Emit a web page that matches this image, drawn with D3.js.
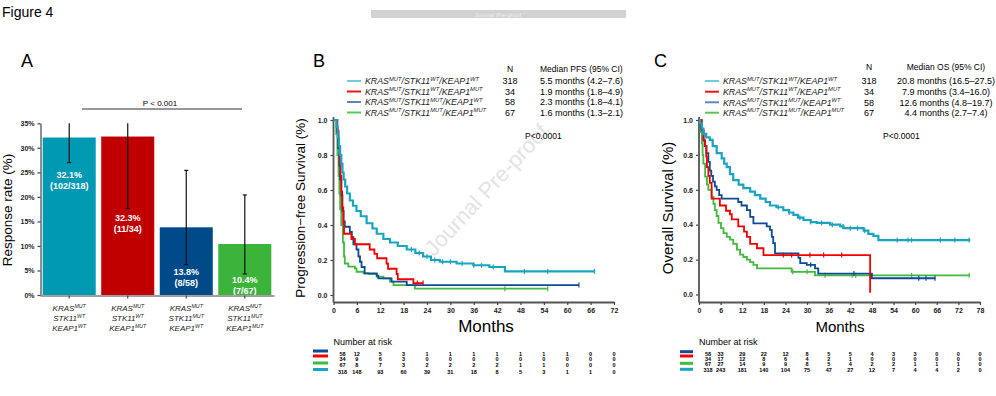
<!DOCTYPE html>
<html>
<head>
<meta charset="utf-8">
<script src="https://cdn.jsdelivr.net/npm/d3@7"></script>
<style>
  body { margin: 0; background: #fff; }
  svg { display: block; font-family: "Liberation Sans", Arial, sans-serif; }
</style>
</head>
<body>
<div class="container"></div>
<script>
// ---------- groups ----------
const stk11 = ["WT", "WT", "MUT", "MUT"]
const keap1 = ["WT", "MUT", "WT", "MUT"]
const groupN = [318, 34, 58, 67]
const curveColors = ["#19a4c0", "#f20000", "#0e4b93", "#3fbb3f"]
const legendColors = ["#6fcbe0", "#e41a1a", "#5f86bf", "#58c858"]
const barColors = ["#0099b4", "#c00000", "#004a8a", "#3cb43c"]

// ---------- panel A : response rate ----------
const responseRate = [32.1, 32.3, 13.8, 10.4]
const responders = ["102/318", "11/34", "8/58", "7/67"]
const ciLow = [27.0, 17.6, 6.2, 4.3]
const ciHigh = [35, 35, 25.4, 20.4]
const rateTicks = [0, 5, 10, 15, 20, 25, 30, 35]

// ---------- panel B : PFS ----------
const pfsMedian = ["5.5 months (4.2\u20137.6)", "1.9 months (1.8\u20134.9)", "2.3 months (1.8\u20134.1)", "1.6 months (1.3\u20132.1)"]
const pfsTeal = [[0,1],[0.8,0.96],[1.1,0.9],[1.4,0.85],[1.7,0.8],[2.0,0.75],[2.3,0.7],[2.6,0.66],[3.0,0.62],[3.5,0.58],[4.2,0.54],[5.0,0.51],[5.9,0.48],[7.0,0.45],[8.5,0.41],[10,0.38],[11.1,0.35],[12.8,0.32],[14.5,0.3],[16.5,0.28],[18.8,0.26],[21,0.24],[23,0.22],[25,0.2],[27.3,0.19],[31.6,0.18],[35.9,0.17],[40,0.16],[44,0.135],[67,0.135]]
const pfsRed = [[0,1],[1.0,0.94],[1.3,0.85],[1.6,0.76],[1.8,0.68],[2.0,0.59],[2.2,0.5],[2.5,0.41],[2.7,0.35],[4.6,0.32],[5.5,0.29],[9.3,0.26],[10.5,0.235],[11.2,0.21],[13.6,0.18],[14,0.15],[16.2,0.12],[16.5,0.09],[20.5,0.068],[23,0.068]]
const pfsBlue = [[0,1],[0.9,0.93],[1.2,0.84],[1.5,0.74],[1.7,0.66],[2.0,0.57],[2.3,0.48],[2.6,0.42],[2.9,0.39],[4.2,0.36],[4.7,0.33],[5.1,0.29],[5.9,0.26],[6.4,0.22],[6.8,0.19],[7.2,0.16],[8.0,0.124],[11.1,0.11],[11.5,0.095],[14.9,0.076],[18.8,0.057],[63,0.057]]
const pfsGreen = [[0,1],[0.7,0.92],[1.0,0.8],[1.3,0.68],[1.5,0.58],[1.7,0.49],[2.0,0.4],[2.4,0.3],[2.7,0.22],[2.9,0.18],[3.8,0.162],[5.5,0.152],[5.9,0.133],[7.7,0.124],[9,0.12],[11.1,0.105],[12.8,0.095],[14.5,0.076],[15.4,0.057],[20.9,0.036],[55,0.036]]
const pfsCensor = [[20,22,24,26,28,30,33,36,38,41,49,55,67], [21.5,23], [63], [44,55]]
const pfsTicks = d3.range(0, 73, 6)
const pfsRiskBlue = [58, 12, 5, 3, 1, 1, 1, 1, 1, 1, 1, 0, 0]
const pfsRiskRed = [34, 9, 6, 3, 0, 0, 0, 0, 0, 0, 0, 0, 0]
const pfsRiskGreen = [67, 8, 7, 3, 2, 2, 2, 2, 1, 1, 0, 0, 0]
const pfsRiskTeal = [318, 148, 93, 60, 39, 31, 18, 8, 5, 3, 1, 1, 0]

// ---------- panel C : OS ----------
const osMedian = ["20.8 months (16.5\u201327.5)", "7.9 months (3.4\u201316.0)", "12.6 months (4.8\u201319.7)", "4.4 months (2.7\u20137.4)"]
const osTeal = [[0,1],[0.3,0.98],[0.8,0.95],[1.2,0.92],[2.0,0.9],[3.0,0.886],[3.8,0.85],[4.9,0.81],[6.3,0.78],[7.0,0.75],[7.7,0.73],[8.6,0.69],[9.5,0.656],[11,0.63],[12.3,0.61],[14.2,0.59],[15.5,0.57],[17,0.55],[18.5,0.53],[19.7,0.51],[21.5,0.5],[23.4,0.484],[25,0.47],[26.2,0.456],[27.5,0.44],[29,0.427],[31,0.415],[32.7,0.41],[36.4,0.4],[39.2,0.39],[40.1,0.38],[45.7,0.366],[47,0.347],[48.4,0.336],[49.8,0.312],[75.3,0.312]]
const osRed = [[0,1],[0.8,0.94],[1.3,0.88],[1.7,0.85],[2.0,0.79],[2.2,0.73],[2.6,0.68],[3.0,0.64],[3.5,0.55],[5.8,0.51],[7.5,0.48],[8.6,0.46],[9.1,0.43],[10.9,0.39],[12.5,0.36],[13.3,0.33],[14.2,0.29],[16.1,0.265],[17.9,0.226],[47.5,0.01]]
const osBlue = [[0,1],[0.6,0.95],[1.2,0.886],[1.6,0.85],[2.1,0.81],[2.6,0.76],[3.0,0.71],[3.4,0.68],[3.9,0.647],[4.4,0.62],[4.9,0.6],[5.6,0.57],[6.3,0.55],[10.9,0.53],[11.8,0.51],[13.3,0.484],[14.2,0.445],[15.1,0.408],[18.8,0.39],[19.7,0.37],[20.2,0.33],[20.6,0.294],[21.1,0.236],[27.6,0.21],[28.1,0.18],[29.9,0.17],[32.2,0.15],[33.1,0.12],[48.0,0.093],[65.6,0.093]]
const osGreen = [[0,1],[0.5,0.93],[0.8,0.866],[1.0,0.8],[1.2,0.75],[1.7,0.675],[2.2,0.63],[2.6,0.6],[3.5,0.56],[4.0,0.52],[4.4,0.484],[4.9,0.45],[5.4,0.41],[6.1,0.38],[6.8,0.352],[7.7,0.33],[8.6,0.314],[9.5,0.29],[10.5,0.257],[11.4,0.229],[12.3,0.215],[13.3,0.2],[14.2,0.185],[15.1,0.17],[16.1,0.15],[25.7,0.13],[32.2,0.11],[75,0.11]]
const osCensor = [[22,25,28,31,34,37,40,42,44,46,55,58,59,67,71,75], [23.4,25.7,30.8,34.6,39.6], [31,43,61,63,65.5], [26,30,35,42.5,43.5,59,75]]
const osTicks = d3.range(0, 79, 6)
const osRiskBlue = [58, 33, 29, 22, 12, 8, 5, 5, 4, 3, 3, 0, 0, 0]
const osRiskRed = [34, 17, 12, 8, 6, 4, 2, 1, 0, 0, 0, 0, 0, 0]
const osRiskGreen = [67, 27, 14, 9, 9, 8, 5, 4, 2, 2, 1, 1, 1, 0]
const osRiskTeal = [318, 243, 181, 140, 104, 75, 47, 27, 12, 7, 4, 4, 2, 0]

const w = 996
const h = 396

const svg = d3.select(".container")
              .append("svg")
              .attr("width", w)
              .attr("height", h)

svg.append("rect").attr("width", w).attr("height", h).attr("fill", "#fff")

// writes text with superscripts: odd parts are raised
function richText(sel, parts, size) {
    let up = false
    parts.forEach((p, i) => {
        const sup = i % 2 === 1
        const t = sel.append("tspan").text(p).attr("font-size", sup ? size * 0.66 : size)
        if (sup && !up) { t.attr("dy", -size * 0.4); up = true }
        else if (!sup && up) { t.attr("dy", size * 0.4); up = false }
    })
}
const geno = (i) => ["KRAS", "MUT", "/STK11", stk11[i], "/KEAP1", keap1[i]]

// header
svg.append("text").attr("x", 2).attr("y", 17).attr("font-size", 14).text("Figure 4")
svg.append("rect").attr("x", 371).attr("y", 10).attr("width", 255).attr("height", 8).attr("fill", "#d2d2d2")
svg.append("text").attr("x", 498).attr("y", 16.5).attr("font-size", 6).attr("fill", "#eeeeee")
   .attr("text-anchor", "middle").text("Journal Pre-proof")

// ================= Panel A =================
const gA = svg.append("g")
gA.append("text").attr("x", 21).attr("y", 67).attr("font-size", 18).text("A")

const xA = d3.scaleBand().domain([0, 1, 2, 3]).range([40, 274]).paddingInner(0.094).paddingOuter(0.046)
const yA = d3.scaleLinear().domain([0, 35]).range([295, 123.3])

gA.selectAll("rect.bar")
  .data(responseRate)
  .enter()
  .append("rect")
  .attr("class", "bar")
  .attr("x", (d, i) => xA(i))
  .attr("y", d => yA(d))
  .attr("width", xA.bandwidth())
  .attr("height", d => yA(0) - yA(d))
  .attr("fill", (d, i) => barColors[i])

// error bars
responseRate.forEach((d, i) => {
    const cx = xA(i) + xA.bandwidth() / 2
    gA.append("line").attr("x1", cx).attr("x2", cx).attr("y1", yA(ciLow[i])).attr("y2", yA(ciHigh[i]))
      .attr("stroke", "#111").attr("stroke-width", 1.2)
    gA.append("line").attr("x1", cx - 2).attr("x2", cx + 2).attr("y1", yA(ciLow[i])).attr("y2", yA(ciLow[i]))
      .attr("stroke", "#111").attr("stroke-width", 1.2)
    if (ciHigh[i] < 35) {
        gA.append("line").attr("x1", cx - 2).attr("x2", cx + 2).attr("y1", yA(ciHigh[i])).attr("y2", yA(ciHigh[i]))
          .attr("stroke", "#111").attr("stroke-width", 1.2)
    }
})

// value labels inside bars (position in % units)
const labelAt = [24.5, 15.7, 4.75, 3.06]
responseRate.forEach((d, i) => {
    const cx = xA(i) + xA.bandwidth() / 2
    gA.append("text").attr("x", cx).attr("y", yA(labelAt[i]) + 3.2).attr("text-anchor", "middle")
      .attr("font-size", 9).attr("font-weight", "bold").attr("fill", "#fff").text(d.toFixed(1) + "%")
    gA.append("text").attr("x", cx).attr("y", yA(labelAt[i]) + 14.5).attr("text-anchor", "middle")
      .attr("font-size", 9).attr("font-weight", "bold").attr("fill", "#fff").text("(" + responders[i] + ")")
})

// axes A
const yAxisA = d3.axisLeft(yA).tickValues(rateTicks).tickFormat(d => d + "%").tickSize(3).tickSizeOuter(0)
gA.append("g").attr("transform", "translate(40.5,0)").call(yAxisA)
  .call(g => g.selectAll("text").attr("font-size", 7).attr("font-weight", "bold").attr("fill", "#222").attr("font-family", "Liberation Sans, Arial"))
  .call(g => g.selectAll("line,path").attr("stroke", "#444").attr("stroke-width", 1.2))
const xAxisA = d3.axisBottom(xA).tickSize(3).tickSizeOuter(0).tickFormat("")
gA.append("g").attr("transform", "translate(0,295.5)").call(xAxisA)
  .call(g => g.selectAll("line,path").attr("stroke", "#444").attr("stroke-width", 1.2))

// genotype labels under bars
responseRate.forEach((d, i) => {
    const cx = xA(i) + xA.bandwidth() / 2
    const rows = [["KRAS", "MUT"], ["STK11", stk11[i]], ["KEAP1", keap1[i]]]
    rows.forEach((r, k) => {
        const t = gA.append("text").attr("x", cx).attr("y", 311 + k * 10.2).attr("text-anchor", "middle")
                    .attr("font-style", "italic").attr("fill", "#222")
        richText(t, r, 8)
    })
})

gA.append("text").attr("transform", "translate(12,210) rotate(-90)").attr("text-anchor", "middle")
  .attr("font-size", 13.5).text("Response rate (%)")

gA.append("line").attr("x1", 82).attr("x2", 242).attr("y1", 109).attr("y2", 109).attr("stroke", "#333").attr("stroke-width", 1.2)
gA.append("text").attr("x", 160).attr("y", 105.5).attr("text-anchor", "middle").attr("font-size", 8).text("P < 0.001")

// ================= KM panels =================
function drawKM(cfg) {
    const g = svg.append("g")
    const x = cfg.x, y = cfg.y
    g.append("text").attr("x", cfg.letterX).attr("y", 67).attr("font-size", 18).text(cfg.letter)

    if (cfg.watermark) {
        g.append("text").attr("transform", "translate(492,195) rotate(-47)").attr("text-anchor", "middle")
         .attr("font-size", 22).attr("fill", "#e3e3e3").text("Journal Pre-proof")
    }

    // axes
    const yAxis = d3.axisLeft(y).tickValues([0, 0.2, 0.4, 0.6, 0.8, 1]).tickFormat(d3.format(".1f")).tickSize(3).tickSizeOuter(0)
    g.append("g").attr("transform", `translate(${x(0)},0)`).call(yAxis)
     .call(s => s.select(".domain").remove())
     .call(s => s.selectAll("text").attr("font-size", 7).attr("font-weight", "bold").attr("fill", "#222").attr("font-family", "Liberation Sans, Arial"))
     .call(s => s.selectAll("line").attr("stroke", "#444").attr("stroke-width", 1.2))
    g.append("line").attr("x1", x(0)).attr("x2", x(0)).attr("y1", y(1) - 3).attr("y2", 302.5)
     .attr("stroke", "#555").attr("stroke-width", 1.8)
    const xAxis = d3.axisBottom(x).tickValues(cfg.ticks).tickSize(3).tickSizeOuter(0)
    g.append("g").attr("transform", "translate(0,302)").call(xAxis)
     .call(s => s.selectAll("text").attr("font-size", 7).attr("font-weight", "bold").attr("fill", "#222").attr("font-family", "Liberation Sans, Arial"))
     .call(s => s.selectAll("line").attr("stroke", "#444").attr("stroke-width", 1.2))
     .call(s => s.select(".domain").attr("stroke", "#555").attr("stroke-width", 1.8))

    g.append("text").attr("transform", `translate(${cfg.yLabelX},208) rotate(-90)`).attr("text-anchor", "middle")
     .attr("font-size", cfg.yLabelSize).text(cfg.yLabel)
    g.append("text").attr("x", cfg.monthsX).attr("y", 332).attr("text-anchor", "middle")
     .attr("font-size", cfg.monthsSize).text("Months")

    // curves
    const line = d3.line().x(d => x(d[0])).y(d => y(d[1])).curve(d3.curveStepAfter)
    const order = [3, 2, 1, 0]
    order.forEach(i => {
        g.append("path").datum(cfg.curves[i]).attr("d", line).attr("fill", "none")
         .attr("stroke", curveColors[i]).attr("stroke-width", i === 0 ? 2.2 : 1.8)
        cfg.censor[i].forEach(c => {
            const step = cfg.curves[i].filter(p => p[0] <= c).pop()
            g.append("line").attr("x1", x(c)).attr("x2", x(c)).attr("y1", y(step[1]) - 2.5).attr("y2", y(step[1]) + 2.5)
             .attr("stroke", curveColors[i]).attr("stroke-width", 1.2)
        })
    })

    // legend
    const L = cfg.legend
    g.append("text").attr("x", L.nX).attr("y", L.headY).attr("text-anchor", "middle").attr("font-size", 8.5).text("N")
    g.append("text").attr("x", L.medX).attr("y", L.headY).attr("text-anchor", L.medAnchor).attr("font-size", 8.5).text(cfg.medHeader)
    groupN.forEach((n, i) => {
        const ry = L.rowY[i]
        g.append("line").attr("x1", L.lineX).attr("x2", L.lineX + 14).attr("y1", ry).attr("y2", ry)
         .attr("stroke", legendColors[i]).attr("stroke-width", 2)
        const t = g.append("text").attr("x", L.lineX + 18).attr("y", ry + 3.3).attr("font-style", "italic").attr("fill", "#222")
        richText(t, geno(i), 8.8)
        g.append("text").attr("x", L.nX).attr("y", ry + 3.3).attr("text-anchor", "middle").attr("font-size", 9).text(n)
        g.append("text").attr("x", L.medX).attr("y", ry + 3.3).attr("text-anchor", L.medAnchor).attr("font-size", 9).text(cfg.medians[i])
    })
    g.append("text").attr("x", cfg.pX).attr("y", 139).attr("font-size", 8.5).text("P<0.0001")

    // number at risk
    const R = cfg.risk
    g.append("text").attr("x", x(0)).attr("y", 345).attr("font-size", 9).text("Number at risk")
    const rowOrder = [2, 1, 3, 0]
    rowOrder.forEach((gi, k) => {
        g.append("rect").attr("x", R.barX).attr("y", R.barY[k] - 1.5).attr("width", R.barW).attr("height", 3)
         .attr("fill", curveColors[gi])
        R.rows[k].forEach((v, j) => {
            g.append("text").attr("x", x(cfg.ticks[j]) + (j === 0 ? 9 : 0)).attr("y", R.numY[k] + 2)
             .attr("text-anchor", "middle").attr("font-size", 5.5).attr("font-weight", "bold").text(v)
        })
    })
}

drawKM({
    letter: "B", letterX: 313,
    x: d3.scaleLinear().domain([0, 72]).range([333.5, 614]),
    y: d3.scaleLinear().domain([0, 1]).range([295, 120]),
    ticks: pfsTicks,
    curves: [pfsTeal, pfsRed, pfsBlue, pfsGreen],
    censor: pfsCensor,
    yLabel: "Progression\u2212free Survival (%)", yLabelX: 305, yLabelSize: 13.5,
    monthsX: 486, monthsSize: 17,
    watermark: true,
    medHeader: "Median PFS (95% CI)", medians: pfsMedian,
    legend: { lineX: 347, nX: 510, medX: 540, medAnchor: "start", headY: 72, rowY: [81, 91.5, 102, 112.5] },
    pX: 525,
    risk: { barX: 313, barW: 15, barY: [351, 356, 363, 369.5], numY: [354.3, 359.3, 365, 372.3],
            rows: [pfsRiskBlue, pfsRiskRed, pfsRiskGreen, pfsRiskTeal] }
})

drawKM({
    letter: "C", letterX: 654,
    x: d3.scaleLinear().domain([0, 78]).range([699, 980]),
    y: d3.scaleLinear().domain([0, 1]).range([294.5, 120]),
    ticks: osTicks,
    curves: [osTeal, osRed, osBlue, osGreen],
    censor: osCensor,
    yLabel: "Overall Survival (%)", yLabelX: 673, yLabelSize: 15,
    monthsX: 840, monthsSize: 15,
    watermark: false,
    medHeader: "Median OS (95% CI)", medians: osMedian,
    legend: { lineX: 705, nX: 869, medX: 946, medAnchor: "middle", headY: 70, rowY: [81, 91.7, 102.3, 112.7] },
    pX: 883,
    risk: { barX: 680, barW: 13, barY: [351.7, 356, 363.3, 369.3], numY: [354.3, 359, 364, 370],
            rows: [osRiskBlue, osRiskRed, osRiskGreen, osRiskTeal] }
})
</script>
</body>
</html>
